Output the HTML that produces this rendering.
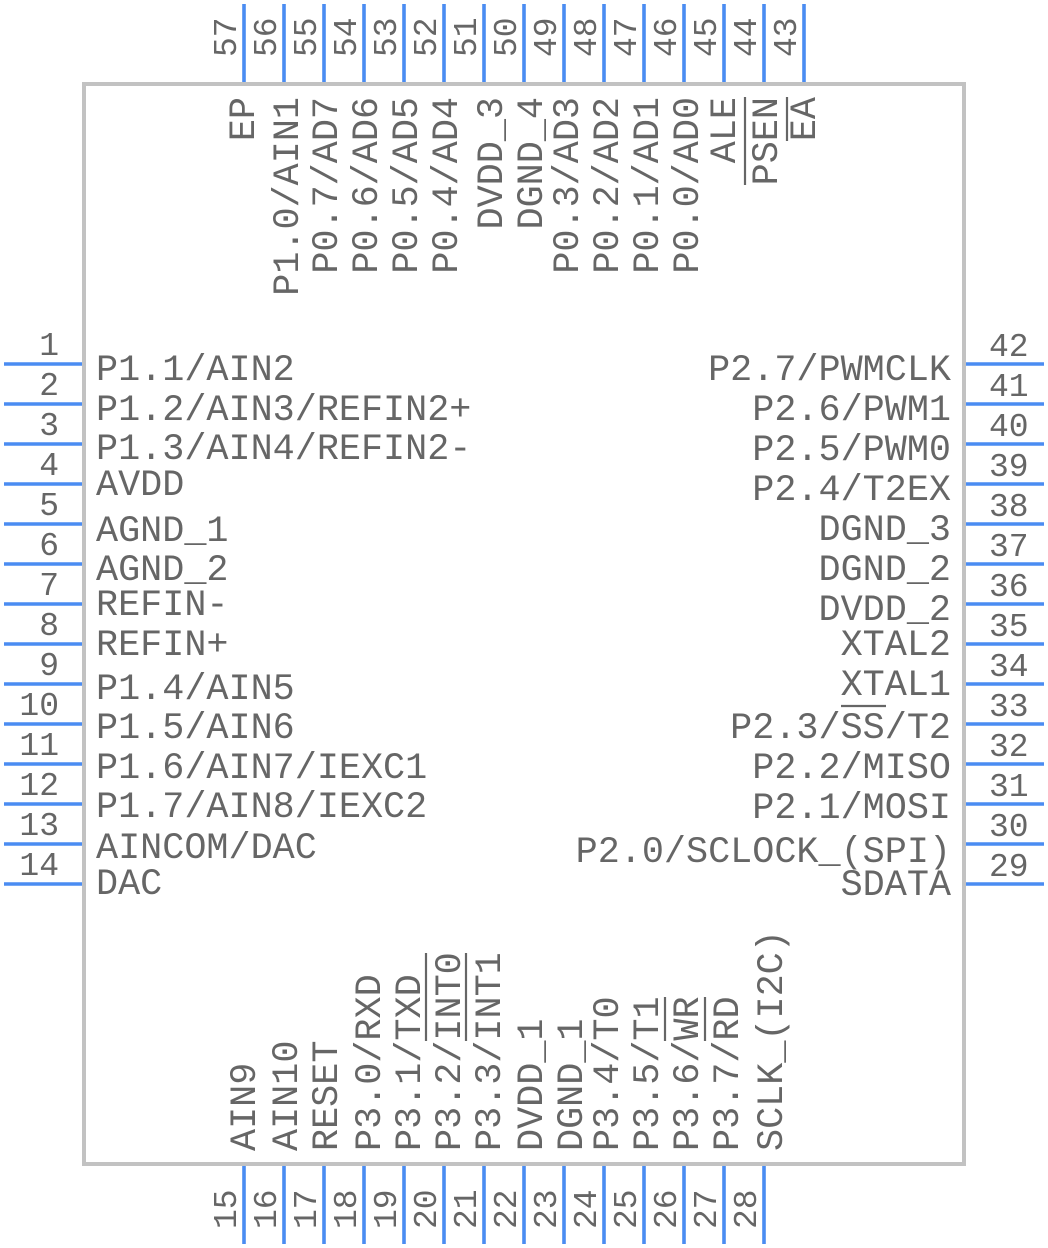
<!DOCTYPE html>
<html>
<head>
<meta charset="utf-8">
<style>
  html,body{margin:0;padding:0;background:#fff;}
  svg{display:block;}
  text{font-family:"Liberation Mono","DejaVu Sans Mono",monospace;fill:#666;}
  .lbl{font-size:36.8px;}
  .num{font-size:33px;}
</style>
</head>
<body>
<svg width="1048" height="1248" viewBox="0 0 1048 1248" xmlns="http://www.w3.org/2000/svg">
  <!-- body -->
  <rect x="84" y="84" width="880" height="1080" fill="none" stroke="#c2c2c2" stroke-width="4"/>

  <!-- pins -->
  <g stroke="#4a8cf2" stroke-width="3.6">
    <line x1="4" y1="364" x2="82" y2="364"/>
    <line x1="4" y1="404" x2="82" y2="404"/>
    <line x1="4" y1="444" x2="82" y2="444"/>
    <line x1="4" y1="484" x2="82" y2="484"/>
    <line x1="4" y1="524" x2="82" y2="524"/>
    <line x1="4" y1="564" x2="82" y2="564"/>
    <line x1="4" y1="604" x2="82" y2="604"/>
    <line x1="4" y1="644" x2="82" y2="644"/>
    <line x1="4" y1="684" x2="82" y2="684"/>
    <line x1="4" y1="724" x2="82" y2="724"/>
    <line x1="4" y1="764" x2="82" y2="764"/>
    <line x1="4" y1="804" x2="82" y2="804"/>
    <line x1="4" y1="844" x2="82" y2="844"/>
    <line x1="4" y1="884" x2="82" y2="884"/>
    <line x1="966" y1="364" x2="1044" y2="364"/>
    <line x1="966" y1="404" x2="1044" y2="404"/>
    <line x1="966" y1="444" x2="1044" y2="444"/>
    <line x1="966" y1="484" x2="1044" y2="484"/>
    <line x1="966" y1="524" x2="1044" y2="524"/>
    <line x1="966" y1="564" x2="1044" y2="564"/>
    <line x1="966" y1="604" x2="1044" y2="604"/>
    <line x1="966" y1="644" x2="1044" y2="644"/>
    <line x1="966" y1="684" x2="1044" y2="684"/>
    <line x1="966" y1="724" x2="1044" y2="724"/>
    <line x1="966" y1="764" x2="1044" y2="764"/>
    <line x1="966" y1="804" x2="1044" y2="804"/>
    <line x1="966" y1="844" x2="1044" y2="844"/>
    <line x1="966" y1="884" x2="1044" y2="884"/>
    <line x1="244" y1="4" x2="244" y2="82"/>
    <line x1="284" y1="4" x2="284" y2="82"/>
    <line x1="324" y1="4" x2="324" y2="82"/>
    <line x1="364" y1="4" x2="364" y2="82"/>
    <line x1="404" y1="4" x2="404" y2="82"/>
    <line x1="444" y1="4" x2="444" y2="82"/>
    <line x1="484" y1="4" x2="484" y2="82"/>
    <line x1="524" y1="4" x2="524" y2="82"/>
    <line x1="564" y1="4" x2="564" y2="82"/>
    <line x1="604" y1="4" x2="604" y2="82"/>
    <line x1="644" y1="4" x2="644" y2="82"/>
    <line x1="684" y1="4" x2="684" y2="82"/>
    <line x1="724" y1="4" x2="724" y2="82"/>
    <line x1="764" y1="4" x2="764" y2="82"/>
    <line x1="804" y1="4" x2="804" y2="82"/>
    <line x1="244" y1="1166" x2="244" y2="1244"/>
    <line x1="284" y1="1166" x2="284" y2="1244"/>
    <line x1="324" y1="1166" x2="324" y2="1244"/>
    <line x1="364" y1="1166" x2="364" y2="1244"/>
    <line x1="404" y1="1166" x2="404" y2="1244"/>
    <line x1="444" y1="1166" x2="444" y2="1244"/>
    <line x1="484" y1="1166" x2="484" y2="1244"/>
    <line x1="524" y1="1166" x2="524" y2="1244"/>
    <line x1="564" y1="1166" x2="564" y2="1244"/>
    <line x1="604" y1="1166" x2="604" y2="1244"/>
    <line x1="644" y1="1166" x2="644" y2="1244"/>
    <line x1="684" y1="1166" x2="684" y2="1244"/>
    <line x1="724" y1="1166" x2="724" y2="1244"/>
    <line x1="764" y1="1166" x2="764" y2="1244"/>
  </g>

  <!-- left pin numbers -->
  <g text-anchor="end">
    <text class="num" x="59" y="355">1</text>
    <text class="num" x="59" y="395">2</text>
    <text class="num" x="59" y="435">3</text>
    <text class="num" x="59" y="475">4</text>
    <text class="num" x="59" y="515">5</text>
    <text class="num" x="59" y="555">6</text>
    <text class="num" x="59" y="595">7</text>
    <text class="num" x="59" y="635">8</text>
    <text class="num" x="59" y="675">9</text>
    <text class="num" x="59" y="715">10</text>
    <text class="num" x="59" y="755">11</text>
    <text class="num" x="59" y="795">12</text>
    <text class="num" x="59" y="835">13</text>
    <text class="num" x="59" y="875">14</text>
  </g>

  <!-- right pin numbers -->
  <g>
    <text class="num" x="989" y="356">42</text>
    <text class="num" x="989" y="396">41</text>
    <text class="num" x="989" y="436">40</text>
    <text class="num" x="989" y="476">39</text>
    <text class="num" x="989" y="516">38</text>
    <text class="num" x="989" y="556">37</text>
    <text class="num" x="989" y="596">36</text>
    <text class="num" x="989" y="636">35</text>
    <text class="num" x="989" y="676">34</text>
    <text class="num" x="989" y="716">33</text>
    <text class="num" x="989" y="756">32</text>
    <text class="num" x="989" y="796">31</text>
    <text class="num" x="989" y="836">30</text>
    <text class="num" x="989" y="876">29</text>
  </g>

  <!-- top pin numbers -->
  <g>
    <text class="num" transform="translate(236,57) rotate(-90)">57</text>
    <text class="num" transform="translate(276,57) rotate(-90)">56</text>
    <text class="num" transform="translate(316,57) rotate(-90)">55</text>
    <text class="num" transform="translate(356,57) rotate(-90)">54</text>
    <text class="num" transform="translate(396,57) rotate(-90)">53</text>
    <text class="num" transform="translate(436,57) rotate(-90)">52</text>
    <text class="num" transform="translate(476,57) rotate(-90)">51</text>
    <text class="num" transform="translate(516,57) rotate(-90)">50</text>
    <text class="num" transform="translate(556,57) rotate(-90)">49</text>
    <text class="num" transform="translate(596,57) rotate(-90)">48</text>
    <text class="num" transform="translate(636,57) rotate(-90)">47</text>
    <text class="num" transform="translate(676,57) rotate(-90)">46</text>
    <text class="num" transform="translate(716,57) rotate(-90)">45</text>
    <text class="num" transform="translate(756,57) rotate(-90)">44</text>
    <text class="num" transform="translate(796,57) rotate(-90)">43</text>
  </g>

  <!-- bottom pin numbers -->
  <g>
    <text class="num" transform="translate(236,1229) rotate(-90)">15</text>
    <text class="num" transform="translate(276,1229) rotate(-90)">16</text>
    <text class="num" transform="translate(316,1229) rotate(-90)">17</text>
    <text class="num" transform="translate(356,1229) rotate(-90)">18</text>
    <text class="num" transform="translate(396,1229) rotate(-90)">19</text>
    <text class="num" transform="translate(436,1229) rotate(-90)">20</text>
    <text class="num" transform="translate(476,1229) rotate(-90)">21</text>
    <text class="num" transform="translate(516,1229) rotate(-90)">22</text>
    <text class="num" transform="translate(556,1229) rotate(-90)">23</text>
    <text class="num" transform="translate(596,1229) rotate(-90)">24</text>
    <text class="num" transform="translate(636,1229) rotate(-90)">25</text>
    <text class="num" transform="translate(676,1229) rotate(-90)">26</text>
    <text class="num" transform="translate(716,1229) rotate(-90)">27</text>
    <text class="num" transform="translate(756,1229) rotate(-90)">28</text>
  </g>

  <!-- left labels -->
  <g>
    <text class="lbl" x="96" y="380">P1.1/AIN2</text>
    <text class="lbl" x="96" y="420">P1.2/AIN3/REFIN2+</text>
    <text class="lbl" x="96" y="459">P1.3/AIN4/REFIN2-</text>
    <text class="lbl" x="96" y="495">AVDD</text>
    <text class="lbl" x="96" y="541">AGND_1</text>
    <text class="lbl" x="96" y="580">AGND_2</text>
    <text class="lbl" x="96" y="615">REFIN-</text>
    <text class="lbl" x="96" y="655">REFIN+</text>
    <text class="lbl" x="96" y="699">P1.4/AIN5</text>
    <text class="lbl" x="96" y="738">P1.5/AIN6</text>
    <text class="lbl" x="96" y="778">P1.6/AIN7/IEXC1</text>
    <text class="lbl" x="96" y="817">P1.7/AIN8/IEXC2</text>
    <text class="lbl" x="96" y="858">AINCOM/DAC</text>
    <text class="lbl" x="96" y="894">DAC</text>
  </g>

  <!-- right labels -->
  <g text-anchor="end">
    <text class="lbl" x="951" y="380">P2.7/PWMCLK</text>
    <text class="lbl" x="951" y="420">P2.6/PWM1</text>
    <text class="lbl" x="951" y="460">P2.5/PWM0</text>
    <text class="lbl" x="951" y="500">P2.4/T2EX</text>
    <text class="lbl" x="951" y="540">DGND_3</text>
    <text class="lbl" x="951" y="580">DGND_2</text>
    <text class="lbl" x="951" y="620">DVDD_2</text>
    <text class="lbl" x="951" y="655">XTAL2</text>
    <text class="lbl" x="951" y="695">XTAL1</text>
    <text class="lbl" x="951" y="738">P2.3/SS/T2</text>
    <text class="lbl" x="951" y="778">P2.2/MISO</text>
    <text class="lbl" x="951" y="818">P2.1/MOSI</text>
    <text class="lbl" x="951" y="862">P2.0/SCLOCK_(SPI)</text>
    <text class="lbl" x="951" y="895">SDATA</text>
  </g>

  <!-- top labels -->
  <g text-anchor="end">
    <text class="lbl" transform="translate(254,97) rotate(-90)">EP</text>
    <text class="lbl" transform="translate(298,97) rotate(-90)">P1.0/AIN1</text>
    <text class="lbl" transform="translate(337,97) rotate(-90)">P0.7/AD7</text>
    <text class="lbl" transform="translate(377,97) rotate(-90)">P0.6/AD6</text>
    <text class="lbl" transform="translate(417,97) rotate(-90)">P0.5/AD5</text>
    <text class="lbl" transform="translate(457,97) rotate(-90)">P0.4/AD4</text>
    <text class="lbl" transform="translate(502,97) rotate(-90)">DVDD_3</text>
    <text class="lbl" transform="translate(542,97) rotate(-90)">DGND_4</text>
    <text class="lbl" transform="translate(578,97) rotate(-90)">P0.3/AD3</text>
    <text class="lbl" transform="translate(618,97) rotate(-90)">P0.2/AD2</text>
    <text class="lbl" transform="translate(658,97) rotate(-90)">P0.1/AD1</text>
    <text class="lbl" transform="translate(698,97) rotate(-90)">P0.0/AD0</text>
    <text class="lbl" transform="translate(735,97) rotate(-90)">ALE</text>
    <text class="lbl" transform="translate(777,97) rotate(-90)">PSEN</text>
    <text class="lbl" transform="translate(815,97) rotate(-90)">EA</text>
  </g>

  <!-- bottom labels -->
  <g>
    <text class="lbl" transform="translate(255,1151) rotate(-90)">AIN9</text>
    <text class="lbl" transform="translate(297,1151) rotate(-90)">AIN10</text>
    <text class="lbl" transform="translate(337,1151) rotate(-90)">RESET</text>
    <text class="lbl" transform="translate(380,1151) rotate(-90)">P3.0/RXD</text>
    <text class="lbl" transform="translate(420,1151) rotate(-90)">P3.1/TXD</text>
    <text class="lbl" transform="translate(460,1151) rotate(-90)">P3.2/INT0</text>
    <text class="lbl" transform="translate(500,1151) rotate(-90)">P3.3/INT1</text>
    <text class="lbl" transform="translate(542,1151) rotate(-90)">DVDD_1</text>
    <text class="lbl" transform="translate(582,1151) rotate(-90)">DGND_1</text>
    <text class="lbl" transform="translate(618,1151) rotate(-90)">P3.4/T0</text>
    <text class="lbl" transform="translate(658,1151) rotate(-90)">P3.5/T1</text>
    <text class="lbl" transform="translate(698,1151) rotate(-90)">P3.6/WR</text>
    <text class="lbl" transform="translate(738,1151) rotate(-90)">P3.7/RD</text>
    <text class="lbl" transform="translate(782,1151) rotate(-90)">SCLK_(I2C)</text>
  </g>

  <!-- overlines -->
  <g stroke="#666" stroke-width="2.2">
    <line x1="841" y1="706" x2="886" y2="706"/>
    <line x1="745" y1="97" x2="745" y2="185"/>
    <line x1="787" y1="97" x2="787" y2="141"/>
    <line x1="426" y1="953" x2="426" y2="1041"/>
    <line x1="466" y1="953" x2="466" y2="1041"/>
    <line x1="665" y1="997" x2="665" y2="1041"/>
    <line x1="705" y1="997" x2="705" y2="1041"/>
  </g>
</svg>
</body>
</html>
